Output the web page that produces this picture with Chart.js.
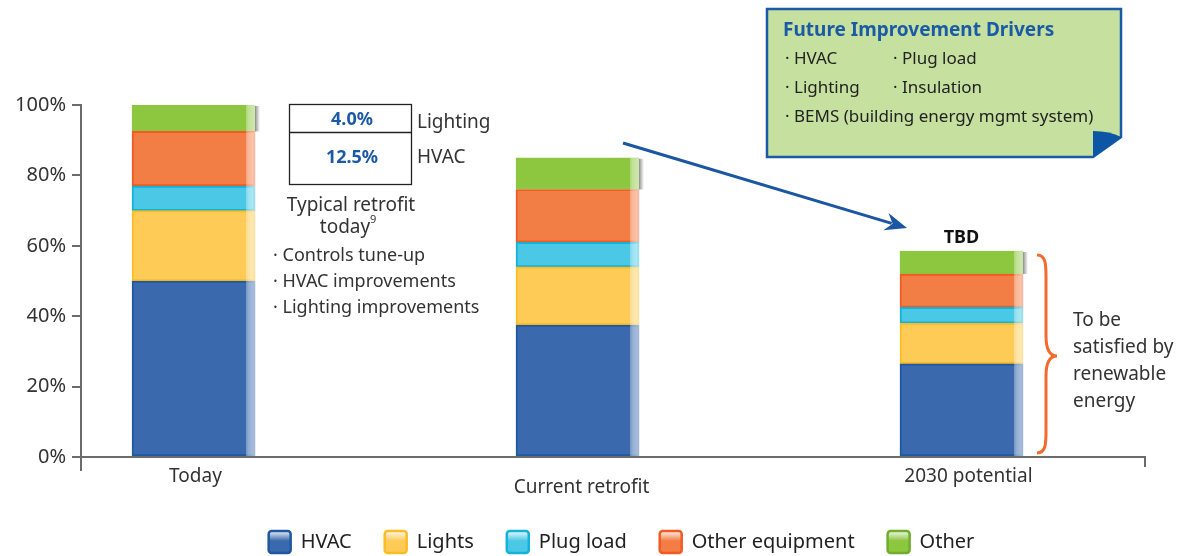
<!DOCTYPE html>
<html>
<head>
<meta charset="utf-8">
<script src="https://cdn.jsdelivr.net/npm/chart.js@4.4.0/dist/chart.umd.min.js"></script>
<style>
  html, body { margin: 0; padding: 0; background: #fff; }
  #wrap { width: 1185px; height: 556px; position: relative; }
</style>
</head>
<body>
<div id="wrap"><canvas id="chart" width="1185" height="556"></canvas></div>
<script>
// values (share of today's energy use, %)
const categories = ['Today', 'Current retrofit', '2030 potential'];
const hvac = [50, 37.5, 26.5];
const lights = [20, 16.5, 11.5];
const plugLoad = [7, 7, 4.5];
const otherEquipment = [15.5, 15, 9.5];
const other = [7.5, 9, 6.5];
const yTicks = [0, 20, 40, 60, 80, 100];

const retrofitSavings = ['4.0%', '12.5%'];
const retrofitTargets = ['Lighting', 'HVAC'];
const retrofitMeasures = ['Controls tune-up', 'HVAC improvements', 'Lighting improvements'];
const futureDrivers = ['HVAC', 'Plug load', 'Lighting', 'Insulation', 'BEMS (building energy mgmt system)'];

const FONT = '"Noto Sans", "DejaVu Sans", sans-serif';
const TEXT = '#333';
const AXIS = '#6b6b6b';
const BLUE = '#1b5ba6';

function series(label, values, fill, border) {
  return {
    label: label,
    data: values.map(function(v, i){ return {x: i, y: v}; }),
    backgroundColor: fill,
    borderColor: border,
    borderWidth: 2,
    borderSkipped: false,
    barThickness: 123
  };
}

const datasets = [
  series('HVAC', hvac, '#3a69ad', '#1f58a0'),
  series('Lights', lights, '#fecb57', '#fbbd25'),
  series('Plug load', plugLoad, '#4bc8e6', '#13b2d9'),
  series('Other equipment', otherEquipment, '#f37e45', '#f05a23'),
  series('Other', other, '#8dc63f', '#8dc63f')
];

function txt(ctx, s, x, y, size, color, align, bold) {
  ctx.font = (bold ? 'bold ' : '') + size + 'px ' + FONT;
  ctx.fillStyle = color;
  ctx.textAlign = align || 'left';
  ctx.textBaseline = 'middle';
  ctx.fillText(s, x, y);
}

const decor = {
  id: 'decor',
  afterDatasetsDraw(chart) {
    const ctx = chart.ctx;
    const n = chart.data.datasets.length;
    categories.forEach(function(c, i) {
      let top = Infinity, base = 0, right = 0;
      for (let d = 0; d < n; d++) {
        const el = chart.getDatasetMeta(d).data[i];
        const r = el.x + el.width / 2;
        // glossy strip on the right side of each segment
        const g = ctx.createLinearGradient(r - 11, 0, r, 0);
        g.addColorStop(0, 'rgba(255,255,255,0.15)');
        g.addColorStop(0.4, 'rgba(255,255,255,0.45)');
        g.addColorStop(1, 'rgba(255,255,255,0.6)');
        ctx.fillStyle = g;
        ctx.fillRect(r - 9, el.y, 9, el.base - el.y);
        top = Math.min(top, el.y);
        base = el.base;
        right = r;
      }
      // drop shadow
      const s = ctx.createLinearGradient(right, 0, right + 5, 0);
      s.addColorStop(0, 'rgba(70,70,70,0.6)');
      s.addColorStop(1, 'rgba(70,70,70,0)');
      ctx.fillStyle = s;
      ctx.fillRect(right, top + 1, 5, base - top - 1);
    });
  },
  afterDraw(chart) {
    const ctx = chart.ctx;
    const xs = chart.scales.x, ys = chart.scales.y;
    const area = chart.chartArea;
    const y0 = ys.getPixelForValue(0);
    ctx.save();

    // axes
    ctx.strokeStyle = AXIS;
    ctx.lineWidth = 2;
    ctx.beginPath();
    ctx.moveTo(area.left - 9, y0); ctx.lineTo(area.right, y0); ctx.lineTo(area.right, y0 + 10);
    ctx.moveTo(area.left, y0); ctx.lineTo(area.left, y0 + 14);
    ctx.stroke();

    // category labels (middle one sits lower)
    const labelDx = [2, 4, 7], labelY = [477, 488, 477];
    categories.forEach(function(c, i) {
      txt(ctx, c, xs.getPixelForValue(i) + labelDx[i], labelY[i], 19, TEXT, 'center');
    });

    // retrofit box
    ctx.strokeStyle = '#222';
    ctx.lineWidth = 1.3;
    ctx.strokeRect(289.5, 104.5, 122, 80);
    ctx.beginPath(); ctx.moveTo(289.5, 132.5); ctx.lineTo(411.5, 132.5); ctx.stroke();
    txt(ctx, retrofitSavings[0], 352, 120, 18, BLUE, 'center', true);
    txt(ctx, retrofitSavings[1], 352, 158, 18, BLUE, 'center', true);
    txt(ctx, retrofitTargets[0], 417, 123, 19, TEXT);
    txt(ctx, retrofitTargets[1], 417, 158, 19, TEXT);
    txt(ctx, 'Typical retrofit', 351, 206, 19, TEXT, 'center');
    txt(ctx, 'today', 345, 228, 19, TEXT, 'center');
    txt(ctx, '9', 370, 220, 11, TEXT);
    retrofitMeasures.forEach(function(m, k) {
      txt(ctx, '\u00B7 ' + m, 273, 256 + k * 26, 18, TEXT);
    });

    // arrow
    const ax0 = 623, ay0 = 143, ax1 = 907, ay1 = 228;
    const ang = Math.atan2(ay1 - ay0, ax1 - ax0);
    ctx.strokeStyle = '#1a56a2';
    ctx.fillStyle = '#1a56a2';
    ctx.lineWidth = 3;
    ctx.beginPath(); ctx.moveTo(ax0, ay0);
    ctx.lineTo(ax1 - 16 * Math.cos(ang), ay1 - 16 * Math.sin(ang)); ctx.stroke();
    ctx.beginPath();
    ctx.moveTo(ax1, ay1);
    ctx.lineTo(ax1 - 22 * Math.cos(ang) + 9 * Math.sin(ang), ay1 - 22 * Math.sin(ang) - 9 * Math.cos(ang));
    ctx.lineTo(ax1 - 15 * Math.cos(ang), ay1 - 15 * Math.sin(ang));
    ctx.lineTo(ax1 - 22 * Math.cos(ang) - 9 * Math.sin(ang), ay1 - 22 * Math.sin(ang) + 9 * Math.cos(ang));
    ctx.closePath(); ctx.fill();

    // TBD over last bar
    const last = categories.length - 1;
    const total = hvac[last] + lights[last] + plugLoad[last] + otherEquipment[last] + other[last];
    const topLast = ys.getPixelForValue(total);
    txt(ctx, 'TBD', xs.getPixelForValue(last), topLast - 13, 18, '#111', 'center', true);

    // brace
    const bt = topLast + 4, bb = y0 - 4, bm = (bt + bb) / 2 + 2;
    ctx.strokeStyle = '#f26a2e';
    ctx.lineWidth = 3;
    ctx.beginPath();
    ctx.moveTo(1037, bt);
    ctx.bezierCurveTo(1046, bt, 1046, bt + 10, 1046, bt + 22);
    ctx.lineTo(1046, bm - 20);
    ctx.bezierCurveTo(1046, bm - 6, 1050, bm, 1057, bm);
    ctx.bezierCurveTo(1050, bm, 1046, bm + 6, 1046, bm + 20);
    ctx.lineTo(1046, bb - 22);
    ctx.bezierCurveTo(1046, bb - 10, 1046, bb, 1037, bb);
    ctx.stroke();
    ['To be', 'satisfied by', 'renewable', 'energy'].forEach(function(s, k) {
      txt(ctx, s, 1073, 321 + k * 27, 19, TEXT);
    });

    // future drivers box with folded corner
    ctx.beginPath();
    ctx.moveTo(767, 9); ctx.lineTo(1121, 9); ctx.lineTo(1121, 137);
    ctx.lineTo(1093, 157); ctx.lineTo(767, 157); ctx.closePath();
    ctx.fillStyle = '#c5e09f';
    ctx.fill();
    ctx.strokeStyle = '#1a5aa6';
    ctx.lineWidth = 2.5;
    ctx.stroke();
    ctx.beginPath();
    ctx.moveTo(1093, 131); ctx.quadraticCurveTo(1110, 131, 1121, 137);
    ctx.lineTo(1093, 157); ctx.closePath();
    ctx.fillStyle = '#0c56a5';
    ctx.fill();
    txt(ctx, 'Future Improvement Drivers', 783, 31, 19, BLUE, 'left', true);
    txt(ctx, '\u00B7 ' + futureDrivers[0], 785, 59, 17, '#222');
    txt(ctx, '\u00B7 ' + futureDrivers[1], 893, 59, 17, '#222');
    txt(ctx, '\u00B7 ' + futureDrivers[2], 785, 88, 17, '#222');
    txt(ctx, '\u00B7 ' + futureDrivers[3], 893, 88, 17, '#222');
    txt(ctx, '\u00B7 ' + futureDrivers[4], 785, 117, 17, '#222');

    // legend
    ctx.font = '20px ' + FONT;
    const items = chart.data.datasets;
    let width = 0;
    items.forEach(function(d, k) { width += 24 + 9 + ctx.measureText(d.label).width + (k ? 32 : 0); });
    let lx = 621 - width / 2;
    const ly = 542;
    items.forEach(function(d) {
      const g = ctx.createLinearGradient(0, ly - 12, 0, ly + 12);
      g.addColorStop(0, '#ffffff');
      g.addColorStop(0.45, d.backgroundColor);
      g.addColorStop(1, d.backgroundColor);
      ctx.fillStyle = g;
      ctx.strokeStyle = d.label === 'Other' ? '#6fae2c' : d.borderColor;
      ctx.lineWidth = 2.5;
      ctx.beginPath();
      ctx.roundRect(lx + 1, ly - 11, 22, 22, 3);
      ctx.fill(); ctx.stroke();
      txt(ctx, d.label, lx + 33, ly, 20, '#222');
      lx += 24 + 9 + ctx.measureText(d.label).width + 32;
    });
    ctx.restore();
  }
};

new Chart(document.getElementById('chart'), {
  type: 'bar',
  data: { datasets: datasets },
  options: {
    responsive: false,
    animation: false,
    layout: { padding: { top: 105, bottom: 99, right: 40, left: 0 } },
    plugins: { legend: { display: false }, tooltip: { enabled: false } },
    scales: {
      x: {
        type: 'linear',
        stacked: true,
        display: false,
        offset: false,
        min: -0.293,
        max: 2.478
      },
      y: {
        stacked: true,
        min: 0,
        max: 100,
        afterBuildTicks: function(scale) { scale.ticks = yTicks.map(function(v){ return {value: v}; }); },
        afterFit: function(scale) { scale.width = 81; },
        ticks: {
          callback: function(v) { return v + '%'; },
          font: { family: FONT, size: 20 },
          color: TEXT,
          padding: 6
        },
        grid: { drawOnChartArea: false, drawTicks: true, tickLength: 9, color: AXIS, lineWidth: 2 },
        border: { display: true, color: AXIS, width: 2 }
      }
    }
  },
  plugins: [decor]
});
</script>
</body>
</html>
